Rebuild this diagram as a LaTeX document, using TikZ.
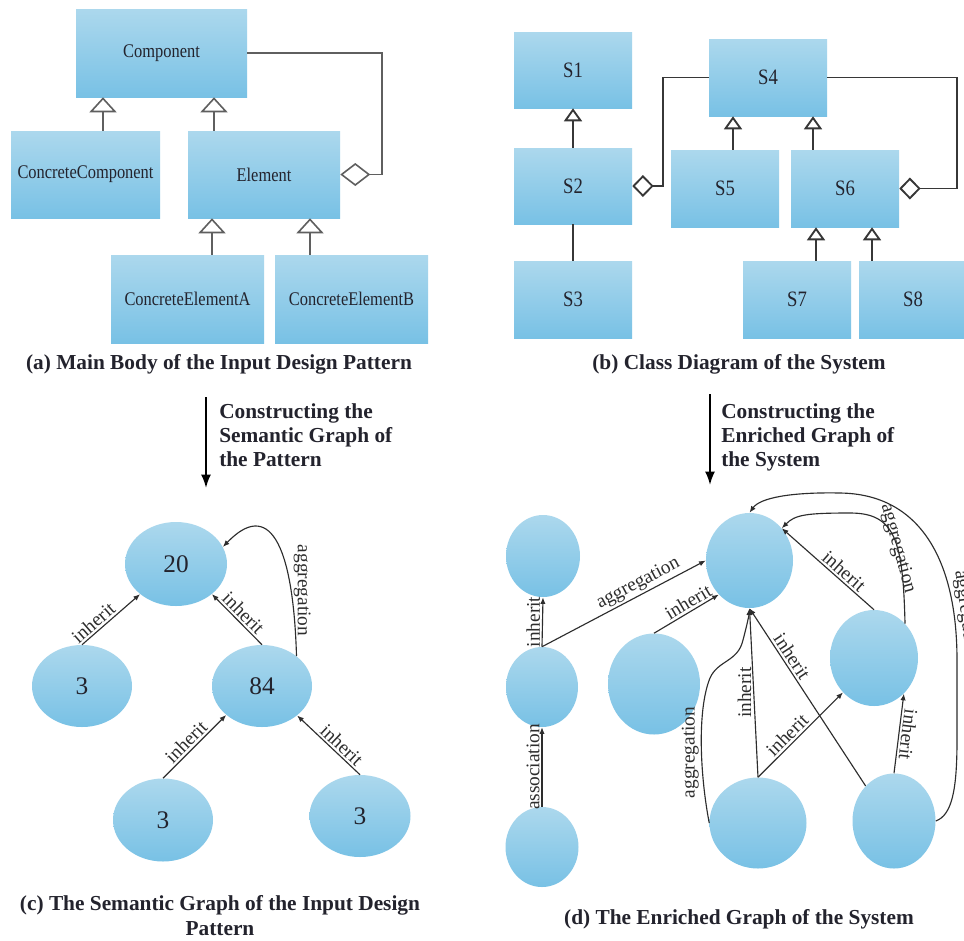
\documentclass[tikz,border=0pt]{standalone}
\usepackage{fontspec}
\setmainfont{Liberation Serif}
\newfontfamily\narrowserif[FakeStretch=0.85]{Liberation Serif}
\usetikzlibrary{arrows.meta,shapes.geometric,calc}

\definecolor{fillTop}{RGB}{172,216,237}
\definecolor{fillBot}{RGB}{120,193,229}
\definecolor{umlGray}{RGB}{95,95,95}
\definecolor{umlDark}{RGB}{55,55,55}
\definecolor{edgeDark}{RGB}{45,45,45}
\definecolor{txtDark}{RGB}{35,35,45}

\begin{document}
\begin{tikzpicture}[x=0.75pt, y=-0.75pt,
  cls/.style={rectangle, inner sep=0pt, top color=fillTop, bottom color=fillBot,
    text=txtDark, font=\narrowserif\fontsize{14.5}{17}\selectfont},
  sbox/.style={cls, font=\narrowserif\fontsize{16.5}{19}\selectfont},
  ell/.style={ellipse, inner sep=0pt, top color=fillTop, bottom color=fillBot,
    text=txtDark, font=\fontsize{19}{22}\selectfont},
  genA/.style={draw=umlGray, line width=1.2pt,
    -{Triangle[open, length=11.25pt, width=20.25pt]}},
  genB/.style={draw=umlDark, line width=1.4pt,
    -{Triangle[open, length=9.75pt, width=13.5pt]}},
  aggA/.style={draw=umlGray, line width=1.2pt,
    -{Diamond[open, length=22.5pt, width=17.25pt]}},
  aggB/.style={draw=umlDark, line width=1.4pt,
    -{Diamond[open, length=16pt, width=16.5pt]}},
  assocB/.style={draw=umlDark, line width=1.4pt},
  gedge/.style={draw=edgeDark, line width=0.85pt, -{Latex[length=5pt, width=4pt]}},
  lbl/.style={font=\fontsize{14.5}{16}\selectfont, text=edgeDark, inner sep=1.5pt},
  bigarr/.style={draw=black, line width=1.5pt, -{Latex[length=10pt, width=7.5pt]}},
  captxt/.style={font=\bfseries\fontsize{16}{18.75}\selectfont, text=txtDark, inner sep=0pt, align=center},
  atext/.style={font=\bfseries\fontsize{16}{18}\selectfont, text=txtDark, inner sep=0pt,
    align=left, anchor=north west}
]
\path[use as bounding box, fill=white] (0,0) rectangle (964,940);

% ---------------- (a) design pattern class diagram ----------------
\node[cls, minimum width=128.25pt, minimum height=66pt]    (comp) at (161.5,53)  {Component};
\node[cls, minimum width=111.75pt, minimum height=65.25pt] (cc)   at (85.5,174.5) {ConcreteComponent};
\node[cls, minimum width=114pt,    minimum height=65.25pt] (elem) at (264,174.5) {Element};
\node[cls, minimum width=114.75pt, minimum height=66pt]    (cea)  at (187.5,299) {ConcreteElementA};
\node[cls, minimum width=114.75pt, minimum height=66pt]    (ceb)  at (351.5,299) {ConcreteElementB};

\draw[genA] (103,0 |- cc.north)   -- (103,0 |- comp.south);
\draw[genA] (214,0 |- elem.north) -- (214,0 |- comp.south);
\draw[genA] (212,0 |- cea.north)  -- (212,0 |- elem.south);
\draw[genA] (310,0 |- ceb.north)  -- (310,0 |- elem.south);
\draw[aggA] (comp.east) -| ($(elem.east)+(42,0)$) -- (elem.east);

\node[captxt, anchor=base] (capA) at (219,369) {(a) Main Body of the Input Design Pattern};

% ---------------- (b) class diagram of the system ----------------
\node[sbox, minimum width=88.5pt, minimum height=57pt]    (s1) at (573,70)    {S1};
\node[sbox, minimum width=88.5pt, minimum height=57pt]    (s2) at (573,186)   {S2};
\node[sbox, minimum width=88.5pt, minimum height=57.75pt] (s3) at (573,299.5) {S3};
\node[sbox, minimum width=88.5pt, minimum height=57.75pt] (s4) at (768,77.5)  {S4};
\node[sbox, minimum width=81pt,   minimum height=57.75pt] (s5) at (725,188.5) {S5};
\node[sbox, minimum width=81pt,   minimum height=57.75pt] (s6) at (845,188.5) {S6};
\node[sbox, minimum width=81pt,   minimum height=57.75pt] (s7) at (797,299.5) {S7};
\node[sbox, minimum width=81pt,   minimum height=57.75pt] (s8) at (913,299.5) {S8};

\draw[genB] (s2.north) -- (s1.south);
\draw[assocB] (s3.north) -- (s2.south);
\draw[genB] (733,0 |- s5.north) -- (733,0 |- s4.south);
\draw[genB] (813,0 |- s6.north) -- (813,0 |- s4.south);
\draw[genB] (816,0 |- s7.north) -- (816,0 |- s6.south);
\draw[genB] (872,0 |- s8.north) -- (872,0 |- s6.south);
\draw[aggB] (s4.west) -| ($(s2.east)+(31,0)$) -- (s2.east);
\draw[aggB] (s4.east) -| ($(s6.east)+(58,0)$) -- (s6.east);

\node[captxt, anchor=base] (capB) at (739,369) {(b) Class Diagram of the System};

% ---------------- transformation arrows ----------------
\coordinate (arrLtop) at (206,397);
\coordinate (arrLbot) at (206,488);
\draw[bigarr] (arrLtop) -- (arrLbot);
\node[atext] (txtL) at (219,403.5) {Constructing the\\Semantic Graph of\\the Pattern};

\coordinate (arrRtop) at (710,394);
\coordinate (arrRbot) at (710,485);
\draw[bigarr] (arrRtop) -- (arrRbot);
\node[atext] (txtR) at (721,403.5) {Constructing the\\Enriched Graph of\\the System};

% ---------------- (c) semantic graph of the pattern ----------------
\node[ell, minimum width=76.5pt, minimum height=63pt]    (n20) at (176,564) {20};
\node[ell, minimum width=75pt,   minimum height=61.5pt]  (n3a) at (82,686)  {3};
\node[ell, minimum width=75pt,   minimum height=61.5pt]  (n84) at (262,686) {84};
\node[ell, minimum width=75pt,   minimum height=62.25pt] (n3b) at (163,820) {3};
\node[ell, minimum width=75.75pt,minimum height=61.5pt]  (n3c) at (360,816) {3};

\draw[gedge] (n3a.north) -- node[lbl, pos=0.3, sloped, above] {inherit} (n20.220);
\draw[gedge] (n84.north) -- node[lbl, pos=0.5, sloped, above] {inherit} (n20.320);
\draw[gedge] (n3b.north) -- node[lbl, pos=0.47, sloped, above] {inherit} (n84.219);
\draw[gedge] (n3c.north) -- node[lbl, pos=0.39, sloped, above] {inherit} (n84.320);
\draw[gedge] (n84.41) .. controls (293,540) and (268,500) .. (n20.20)
  node[lbl, pos=0.22, rotate=-90, anchor=south] {aggregation};

\node[captxt, anchor=north] (capC) at (220,895.5) {(c) The Semantic Graph of the Input Design\\Pattern};

% ---------------- (d) enriched graph of the system ----------------
\node[ell, minimum width=55.5pt,  minimum height=61.5pt]  (dA) at (543,556) {};
\node[ell, minimum width=54pt,    minimum height=60pt]    (dB) at (542,687) {};
\node[ell, minimum width=54.75pt, minimum height=60pt]    (dC) at (542,847) {};
\node[ell, minimum width=65.25pt, minimum height=71.25pt] (dD) at (749.5,560.5) {};
\node[ell, minimum width=69pt,    minimum height=75.75pt] (dE) at (654,684) {};
\node[ell, minimum width=66pt,    minimum height=72pt]    (dF) at (874,658) {};
\node[ell, minimum width=72.75pt, minimum height=68.25pt] (dG) at (758,823) {};
\node[ell, minimum width=62.25pt, minimum height=71.25pt] (dH) at (894,821) {};

\draw[gedge] (dB.north) -- node[lbl, midway, rotate=90, anchor=south] {inherit} (dA.south);
\draw[gedge] (dC.north) -- node[lbl, midway, rotate=90, anchor=south] {association} (dB.south);
\draw[gedge] (dB.north) -- node[lbl, pos=0.62, sloped, above] {aggregation} (dD.west);
\draw[gedge] (dE.north) -- node[lbl, pos=0.6, sloped, above] {inherit} (dD.228);
\draw[gedge] (dF.north) -- node[lbl, pos=0.39, sloped, above] {inherit} (dD.45);
\draw[gedge] (dF.48) .. controls (903,540) and (895,513) .. (850,513)
  node[lbl, pos=0.4, sloped] {aggregation}
  .. controls (805,513) and (795,515) .. (dD.45);
\draw[gedge] (dH.east) .. controls (952,815) and (957,790) .. (957,740) -- (957,660)
  .. controls (957,560) and (920,494) .. (840,493)
  node[lbl, pos=0.15, sloped, above] {aggregation}
  .. controls (790,492) and (760,498) .. (dD.north);
\draw[gedge] (dG.north) -- node[lbl, pos=0.5, rotate=90, anchor=south] {inherit} (dD.south);
\draw[gedge] (dG.west) .. controls (700,775) and (697,710) .. (710,678)
  node[lbl, pos=0.45, rotate=90, anchor=south] {aggregation}
  .. controls (718,660) and (738,662) .. (743,640)
  .. controls (747,625) and (749,615) .. (dD.south);
\draw[gedge] (dH.129) -- node[lbl, pos=0.7, sloped, above] {inherit} (dD.south);
\draw[gedge] (dG.north) -- node[lbl, pos=0.42, sloped, above] {inherit} (dF.228);
\draw[gedge] (dH.north) -- node[lbl, pos=0.5, rotate=-97, anchor=south] {inherit} (dF.310);

\node[captxt, anchor=base] (capD) at (739,924) {(d) The Enriched Graph of the System};
\end{tikzpicture}
\end{document}
